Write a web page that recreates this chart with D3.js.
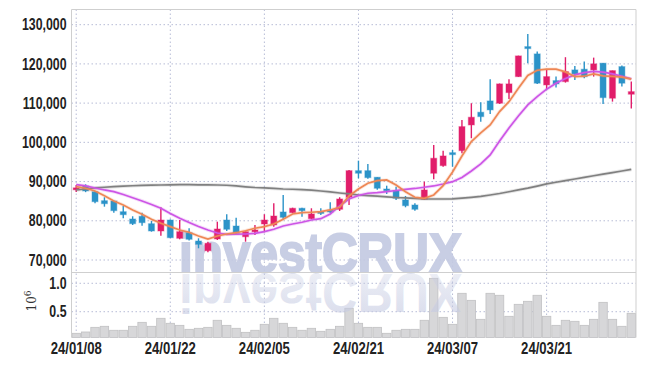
<!DOCTYPE html>
<html><head><meta charset="utf-8">
<script src="https://cdn.jsdelivr.net/npm/d3@7"></script>
<style>
html,body{margin:0;padding:0;background:#fff;}
svg{display:block;}
.tick text{font-family:'Liberation Sans',Arial,sans-serif;font-weight:bold;font-size:16px;fill:#222;}
</style></head>
<body><svg id="c" width="645" height="366"></svg>
<script>
const dates = ["2024-01-08","2024-01-09","2024-01-10","2024-01-11","2024-01-12","2024-01-15","2024-01-16","2024-01-17","2024-01-18","2024-01-19",
"2024-01-22","2024-01-23","2024-01-24","2024-01-25","2024-01-26","2024-01-29","2024-01-30","2024-01-31","2024-02-01","2024-02-02",
"2024-02-05","2024-02-06","2024-02-07","2024-02-08","2024-02-13","2024-02-14","2024-02-15","2024-02-16","2024-02-19","2024-02-20",
"2024-02-21","2024-02-22","2024-02-23","2024-02-26","2024-02-27","2024-02-28","2024-02-29","2024-03-04","2024-03-05","2024-03-06",
"2024-03-07","2024-03-08","2024-03-11","2024-03-12","2024-03-13","2024-03-14","2024-03-15","2024-03-18","2024-03-19","2024-03-20",
"2024-03-21","2024-03-22","2024-03-25","2024-03-26","2024-03-27","2024-03-28","2024-03-29","2024-04-01","2024-04-02","2024-04-03"];
const open  = [87900,88880,87420,85130,85050,82320,80460,81150,79260,77400,80200,75540,76960,74850,72370,75360,80200,78670,75940,77220,
79180,78930,82250,82070,83190,80540,82320,82700,82930,86000,92780,92780,91100,88110,87600,85310,84030,85490,92120,94060,
97370,97880,104440,107680,110560,109970,112680,116760,124410,122550,114640,115740,115490,118470,118640,118470,120180,111250,119310,112270];
const high  = [89130,89300,87500,86000,85100,83780,81150,82070,79950,83440,80300,80200,78090,75540,74670,79770,81660,80790,77300,78930,
81660,84470,86580,83340,83300,83190,83190,84700,86000,92960,95330,94490,91100,88950,88700,86330,84460,89980,99340,97880,
98060,105710,109970,110230,116100,115000,116100,122100,127650,123140,118470,116760,121710,119490,120590,121600,120200,118300,119570,115490];
const low   = [87350,87300,84500,83600,82070,80640,78930,78750,77220,76200,75600,75280,75000,72990,71960,75100,77400,76450,74670,76380,
77060,78500,80380,81900,81050,80380,81480,82000,82500,84030,90840,90740,87900,86840,85300,83440,82580,85300,90590,93800,
93800,97220,101050,105280,107250,109800,111070,116700,120180,114900,113550,113970,115230,115920,116350,116760,109800,110380,114210,108630];
const close = [88400,87600,84870,84360,82580,81560,79260,79520,77400,80200,75690,77220,75280,74000,74260,77910,77830,76810,77220,77650,
80200,81220,80890,83190,82580,81740,81990,82500,85560,92780,92120,91000,88290,87680,85740,83850,82930,87860,95940,96530,
96870,104010,106400,106560,108270,114900,114900,122040,123900,115080,116760,114900,118040,117450,116760,120000,111400,118290,115080,112930];
const volume = [0.12,0.143,0.225,0.243,0.173,0.173,0.243,0.313,0.243,0.384,0.296,0.26,0.19,0.208,0.225,0.349,0.26,0.208,0.137,0.173,
0.278,0.384,0.296,0.225,0.173,0.208,0.155,0.19,0.243,0.56,0.296,0.225,0.225,0.12,0.173,0.19,0.19,0.349,1.088,0.401,
0.278,0.824,0.70,0.366,0.824,0.789,0.419,0.63,0.683,0.789,0.419,0.26,0.349,0.331,0.26,0.366,0.665,0.366,0.243,0.472];
const ma5 = [88700,88290,87600,86400,85050,84030,82760,81660,80380,79360,78500,77650,77070,76120,75360,76120,76630,76960,77470,78090,
78500,79180,80380,81730,82070,82170,82320,82760,83440,86330,88110,89570,90230,90410,89130,87420,86000,85740,86580,88950,
92450,96530,100180,102400,104440,107830,110380,113800,117070,118390,118650,118650,117960,116760,116860,117450,116940,116810,116610,116100];
const ma20 = [89210,88880,88370,87860,87420,86710,85890,85050,84160,83190,81860,80640,79570,78550,77650,76890,76560,76580,76630,76810,
77220,77830,78670,79180,79620,80200,80540,81730,83780,85560,86450,87020,87170,87420,87730,87990,88240,88550,88880,89390,
89970,91050,92700,94490,96790,100360,103670,106730,109540,111660,113550,115080,116300,117190,117780,118090,117880,117450,116810,116170];
const ma120 = [87860,88110,88370,88550,88700,88830,88930,89030,89080,89130,89180,89210,89210,89180,89180,89130,89060,88880,88670,88490,
88370,88240,88110,88040,87930,87810,87600,87350,87090,86840,86580,86430,86280,86120,85940,85820,85690,85560,85560,85560,
85610,85770,85970,86220,86580,86960,87400,87860,88320,88850,89390,89820,90260,90660,91070,91480,91890,92300,92700,93090];
const priceTicks = [70000,80000,90000,100000,110000,120000,130000];
const volTicks = [0.5,1.0];
const dateTickIdx = [0,10,20,30,40,50];

const svg = d3.select("#c");
const L = 71.5, R = 636, T = 9.5, MB = 272.5, VB = 337.5;
const parse = d3.timeParse("%Y-%m-%d"), fmt = d3.timeFormat("%y/%m/%d");
const x = d3.scaleBand().domain(dates).range([L, R]).padding(0);
const bw = x.bandwidth();
const cx = d => x(d) + bw/2;
const y = d3.scaleLinear().domain([66815, 133870]).range([MB, T]);
const yv = d3.scaleLinear().domain([0.046, 1.19]).range([VB, MB]);
const gridColor = "#b7bcd6";

// grid
const g = svg.append("g");
priceTicks.forEach(v => g.append("line").attr("x1", L).attr("x2", R).attr("y1", y(v)).attr("y2", y(v))
  .attr("stroke", gridColor).attr("stroke-dasharray", "1.5,2.5"));
volTicks.forEach(v => g.append("line").attr("x1", L).attr("x2", R).attr("y1", yv(v)).attr("y2", yv(v))
  .attr("stroke", gridColor).attr("stroke-dasharray", "1.5,2.5"));
dateTickIdx.forEach(i => g.append("line").attr("x1", cx(dates[i])).attr("x2", cx(dates[i])).attr("y1", T).attr("y2", VB)
  .attr("stroke", gridColor).attr("stroke-dasharray", "1.5,2.5"));

// volume bars
svg.append("g").selectAll("rect").data(dates).join("rect")
  .attr("x", d => x(d) + 0.5).attr("width", bw - 1)
  .attr("y", (d,i) => yv(volume[i])).attr("height", (d,i) => VB - yv(volume[i]))
  .attr("fill", "#d7d7d9").attr("stroke", "#c0c0c2").attr("stroke-width", 0.8);

// watermark + reflection
const defs = svg.append("defs");
const grad = defs.append("linearGradient").attr("id","fade").attr("x1",0).attr("x2",0).attr("y1",0).attr("y2",1);
grad.append("stop").attr("offset","0%").attr("stop-color","#c6cbe2").attr("stop-opacity",0.7);
grad.append("stop").attr("offset","100%").attr("stop-color","#c6cbe2").attr("stop-opacity",0.25);
const wm = svg.append("g").attr("font-family","'Liberation Sans',Arial,sans-serif").attr("font-weight","bold").attr("font-size",55);
wm.append("text").attr("x", 179).attr("y", MB - 1).attr("textLength",283).attr("lengthAdjust","spacingAndGlyphs")
  .attr("fill","#c4cae2").attr("stroke","#c4cae2").attr("stroke-width",2).attr("opacity",0.92).text("investCRUX");
wm.append("text").attr("x", 179).attr("y", MB - 1).attr("textLength",283).attr("lengthAdjust","spacingAndGlyphs")
  .attr("fill","url(#fade)").attr("transform", `translate(0,${2*MB}) scale(1,-1)`).text("investCRUX");

// frame
svg.append("line").attr("x1", L).attr("x2", R).attr("y1", T).attr("y2", T).attr("stroke","#cfcfcf");
svg.append("line").attr("x1", L).attr("x2", L).attr("y1", T).attr("y2", VB).attr("stroke","#cfcfcf");
svg.append("line").attr("x1", R).attr("x2", R).attr("y1", T).attr("y2", VB).attr("stroke","#cfcfcf");
svg.append("line").attr("x1", L).attr("x2", R).attr("y1", MB).attr("y2", MB).attr("stroke","#cfcfcf");

// candles
const up = "#e11d6a", down = "#2b93c8";
const cg = svg.append("g");
dates.forEach((d,i) => {
  const col = close[i] >= open[i] ? up : down;
  cg.append("line").attr("x1", cx(d)).attr("x2", cx(d)).attr("y1", y(high[i])).attr("y2", y(low[i]))
    .attr("stroke", col).attr("stroke-width", 1.4);
  const top = y(Math.max(open[i], close[i])), bot = y(Math.min(open[i], close[i]));
  const h = Math.max(bot - top, 1.8);
  cg.append("rect").attr("x", cx(d) - 3).attr("width", 6).attr("y", top).attr("height", h)
    .attr("fill", col).attr("stroke", col).attr("stroke-opacity", 0.35).attr("stroke-width", 1.2);
});

// moving averages
const lineGen = arr => d3.line().x((d,i) => cx(dates[i])).y(d => y(d))(arr);
[[ma120,"#808080"],[ma20,"#cd55e6"],[ma5,"#ee8755"]].forEach(([arr,col]) => {
  svg.append("path").attr("d", lineGen(arr)).attr("fill","none").attr("stroke",col).attr("stroke-width",3.5).attr("stroke-opacity",0.2);
  svg.append("path").attr("d", lineGen(arr)).attr("fill","none").attr("stroke",col).attr("stroke-width",1.7);
});

// axes
const squeeze = (sel, k) => sel.selectAll(".tick text").each(function(){
  const w = this.getComputedTextLength();
  d3.select(this).attr("textLength", w * k).attr("lengthAdjust", "spacingAndGlyphs");
});
const ay = svg.append("g").attr("transform", `translate(${L},0)`)
  .call(d3.axisLeft(y).tickValues(priceTicks).tickFormat(d3.format(",")).tickSize(0).tickPadding(5));
ay.select(".domain").remove(); squeeze(ay, 0.77);
const av = svg.append("g").attr("transform", `translate(${L},0)`)
  .call(d3.axisLeft(yv).tickValues(volTicks).tickFormat(d3.format(".1f")).tickSize(0).tickPadding(5));
av.select(".domain").remove(); squeeze(av, 0.77);
const ax = svg.append("g").attr("transform", `translate(0,${VB})`)
  .call(d3.axisBottom(x).tickValues(dateTickIdx.map(i => dates[i])).tickFormat(d => fmt(parse(d))).tickSize(0).tickPadding(5));
ax.select(".domain").remove(); squeeze(ax, 0.82);

// 10^6 label
const lab = svg.append("text").attr("transform", "translate(36,301) rotate(-90)").attr("text-anchor","middle")
  .attr("font-family","'DejaVu Serif',serif").attr("font-size",12).attr("fill","#333");
lab.append("tspan").text("10");
lab.append("tspan").attr("dy",-5).attr("font-size",9).text("6");
</script></body></html>
